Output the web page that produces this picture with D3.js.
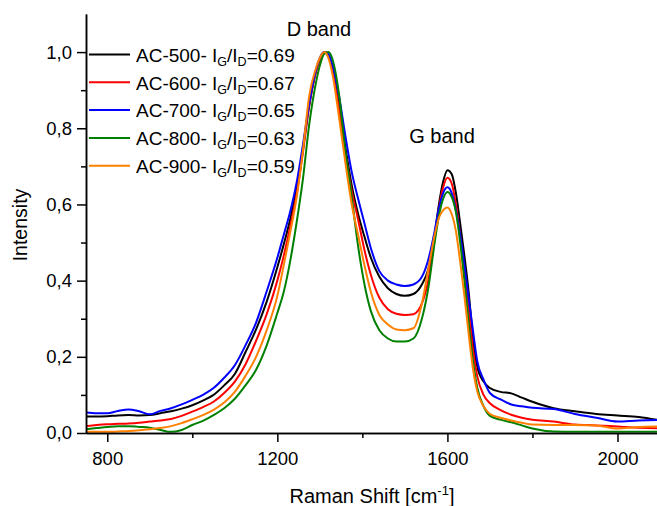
<!DOCTYPE html>
<html lang="en">
<head>
    <meta charset="UTF-8">
    <title>Raman</title>
    <style>
        body { margin: 0; background: #fff; }
        text { font-family: Arial, "Liberation Sans", sans-serif; fill: #000; }
    </style>
</head>
<body>
<script src="https://d3js.org/d3.v7.min.js"></script>
<script>
    // Raman shift grid (cm-1) and the five normalised spectra
    const shift = [750, 775, 800, 825, 850, 875, 900, 925, 950, 975, 1000, 1025, 1050, 1075, 1100, 1125, 1150, 1175,
        1200, 1215, 1230, 1245, 1260, 1275, 1290,
        1300, 1310, 1320, 1330,
        1345, 1360, 1375, 1390, 1405, 1420,
        1440, 1460, 1480, 1500, 1520, 1540,
        1555, 1570, 1580, 1590, 1600, 1610, 1620, 1630, 1640, 1650, 1660, 1670,
        1685, 1700, 1725, 1750, 1775, 1800,
        1850, 1900, 1950, 2000, 2050, 2100];

    const ac500 = [0.043, 0.043, 0.044, 0.046, 0.047, 0.046, 0.047, 0.052, 0.057, 0.064, 0.073, 0.085, 0.100, 0.125, 0.155, 0.212, 0.272, 0.345,
        0.435, 0.495, 0.56, 0.64, 0.745, 0.86, 0.945,
        0.98, 1.0, 0.99, 0.955,
        0.86, 0.75, 0.65, 0.575, 0.515, 0.46,
        0.41, 0.38, 0.365, 0.36, 0.365, 0.39,
        0.43, 0.52, 0.6, 0.66, 0.69, 0.68, 0.63, 0.55, 0.465, 0.37, 0.25, 0.175,
        0.135, 0.118, 0.108, 0.104, 0.093, 0.082,
        0.065, 0.057, 0.05, 0.046, 0.042, 0.033];

    const ac600 = [0.018, 0.021, 0.023, 0.024, 0.025, 0.027, 0.030, 0.033, 0.037, 0.045, 0.056, 0.068, 0.082, 0.105, 0.135, 0.180, 0.242, 0.312,
        0.4, 0.465, 0.54, 0.625, 0.735, 0.86, 0.945,
        0.98, 1.0, 0.99, 0.95,
        0.85, 0.735, 0.635, 0.56, 0.48, 0.415,
        0.355, 0.325, 0.313, 0.31, 0.312, 0.34,
        0.40, 0.51, 0.59, 0.645, 0.67, 0.655, 0.60, 0.52, 0.43, 0.33, 0.22, 0.15,
        0.10, 0.078, 0.06, 0.048, 0.04, 0.035,
        0.03, 0.022, 0.02, 0.017, 0.014, 0.012];

    const ac700 = [0.054, 0.052, 0.052, 0.058, 0.062, 0.057, 0.049, 0.058, 0.065, 0.075, 0.087, 0.100, 0.118, 0.145, 0.178, 0.230, 0.290, 0.372,
        0.46, 0.52, 0.58, 0.655, 0.755, 0.865, 0.95,
        0.985, 1.0, 0.995, 0.965,
        0.885, 0.78, 0.685, 0.615, 0.55, 0.485,
        0.425, 0.40, 0.39, 0.386, 0.39, 0.41,
        0.455, 0.53, 0.59, 0.63, 0.645, 0.63, 0.585, 0.52, 0.44, 0.355, 0.27, 0.19,
        0.14, 0.105, 0.088, 0.075, 0.07, 0.066,
        0.063, 0.05, 0.04, 0.03, 0.033, 0.034];

    const ac800 = [0.010, 0.013, 0.016, 0.018, 0.018, 0.016, 0.014, 0.008, 0.003, 0.008, 0.021, 0.032, 0.047, 0.065, 0.090, 0.125, 0.166, 0.230,
        0.315, 0.37, 0.45, 0.55, 0.665, 0.81, 0.915,
        0.965, 0.995, 1.0, 0.98,
        0.89, 0.74, 0.62, 0.49, 0.39, 0.32,
        0.27, 0.248, 0.24, 0.24, 0.248, 0.30,
        0.38, 0.50, 0.57, 0.615, 0.633, 0.62, 0.58, 0.50, 0.40, 0.29, 0.19, 0.12,
        0.07, 0.045, 0.035, 0.028, 0.02, 0.012,
        0.004, 0.003, 0.003, 0.003, 0.003, 0.003];

    const ac900 = [0.003, 0.003, 0.003, 0.004, 0.005, 0.007, 0.010, 0.013, 0.018, 0.026, 0.036, 0.047, 0.061, 0.080, 0.108, 0.150, 0.200, 0.270,
        0.36, 0.44, 0.525, 0.615, 0.74, 0.885, 0.955,
        0.985, 1.0, 0.985, 0.94,
        0.83, 0.71, 0.60, 0.52, 0.44, 0.37,
        0.31, 0.285, 0.272, 0.27, 0.275, 0.34,
        0.43, 0.52, 0.565, 0.585, 0.592, 0.575, 0.53, 0.45, 0.36, 0.26, 0.17, 0.11,
        0.07, 0.05, 0.04, 0.033, 0.027, 0.022,
        0.021, 0.021, 0.02, 0.012, 0.016, 0.017];

    const sampleNames = ["AC-500", "AC-600", "AC-700", "AC-800", "AC-900"];
    const ratios = ["0.69", "0.67", "0.65", "0.63", "0.59"];
    const colors = ["#000000", "#ff0000", "#0000ff", "#008000", "#ff8000"];
    const xMajorTicks = [800, 1200, 1600, 2000];
    const xMinorTicks = [1000, 1400, 1800];
    const yMajorTicks = [0, 0.2, 0.4, 0.6, 0.8, 1.0];
    const yMinorTicks = [0.1, 0.3, 0.5, 0.7, 0.9];

    const series = [ac500, ac600, ac700, ac800, ac900];

    const width = 657, height = 506;
    const plotLeft = 86, plotRight = 660, plotTop = 13, plotBottom = 433;
    const font = "Arial, 'Liberation Sans', sans-serif";

    const svg = d3.select("body").append("svg")
        .attr("width", width)
        .attr("height", height);

    const x = d3.scaleLinear().domain([750, 2100]).range([plotLeft, plotRight]);
    const y = d3.scaleLinear().domain([0, 1.1]).range([plotBottom, plotTop + 1]);

    svg.append("clipPath").attr("id", "plot")
        .append("rect")
        .attr("x", plotLeft).attr("y", plotTop)
        .attr("width", plotRight - plotLeft).attr("height", plotBottom - plotTop);

    // Spectra
    const line = d3.line()
        .x((d, i) => x(shift[i]))
        .y(d => y(d))
        .curve(d3.curveMonotoneX);

    svg.append("g").attr("clip-path", "url(#plot)")
        .selectAll("path")
        .data(series)
        .enter().append("path")
        .attr("fill", "none")
        .attr("stroke", (d, i) => colors[i])
        .attr("stroke-width", 2)
        .attr("stroke-linejoin", "round")
        .attr("d", line);

    // Axes
    const fmt = d => d3.format(".1f")(d).replace(".", ",");

    function styleAxis(g) {
        g.selectAll("path, line").attr("stroke", "#000").attr("stroke-width", 1.5);
        g.selectAll("text").style("font-size", "18.5px").style("font-family", font).attr("fill", "#000");
    }

    svg.append("g")
        .attr("transform", "translate(0," + plotBottom + ")")
        .call(d3.axisBottom(x).tickValues(xMajorTicks).tickSize(9).tickSizeOuter(0).tickPadding(10).tickFormat(d3.format("d")))
        .call(styleAxis);

    svg.append("g")
        .attr("transform", "translate(0," + plotBottom + ")")
        .call(d3.axisBottom(x).tickValues(xMinorTicks).tickSize(5).tickSizeOuter(0).tickFormat(""))
        .call(styleAxis);

    svg.append("g")
        .attr("transform", "translate(" + plotLeft + ",0)")
        .call(d3.axisLeft(y).tickValues(yMajorTicks).tickSize(9).tickSizeOuter(0).tickPadding(5).tickFormat(fmt))
        .call(styleAxis);

    svg.append("g")
        .attr("transform", "translate(" + plotLeft + ",0)")
        .call(d3.axisLeft(y).tickValues(yMinorTicks).tickSize(5).tickSizeOuter(0).tickFormat(""))
        .call(styleAxis);

    // Axis titles
    svg.append("text")
        .attr("transform", "translate(27,225) rotate(-90)")
        .attr("text-anchor", "middle")
        .style("font-size", "19.5px")
        .text("Intensity");

    const xTitle = svg.append("text")
        .attr("x", 372)
        .attr("y", 503)
        .attr("text-anchor", "middle")
        .style("font-size", "20px");
    xTitle.append("tspan").text("Raman Shift [cm");
    xTitle.append("tspan").attr("dy", -8).style("font-size", "13px").text("-1");
    xTitle.append("tspan").attr("dy", 8).text("]");

    // Band labels
    svg.append("text").attr("x", 319).attr("y", 35.5)
        .attr("text-anchor", "middle").style("font-size", "20px").text("D band");
    svg.append("text").attr("x", 442).attr("y", 143)
        .attr("text-anchor", "middle").style("font-size", "20px").text("G band");

    // Legend
    const legend = svg.append("g");
    sampleNames.forEach((name, i) => {
        const ly = 54.5 + i * 27.8;
        legend.append("line")
            .attr("x1", 89).attr("x2", 130)
            .attr("y1", ly).attr("y2", ly)
            .attr("stroke", colors[i]).attr("stroke-width", 2);
        const t = legend.append("text")
            .attr("x", 136).attr("y", ly + 7.3)
            .style("font-size", "19px");
        t.append("tspan").text(name + "- I");
        t.append("tspan").attr("dy", 4).style("font-size", "12.5px").text("G");
        t.append("tspan").attr("dy", -4).text("/I");
        t.append("tspan").attr("dy", 4).style("font-size", "12.5px").text("D");
        t.append("tspan").attr("dy", -4).text("=" + ratios[i]);
    });
</script>
</body>
</html>
